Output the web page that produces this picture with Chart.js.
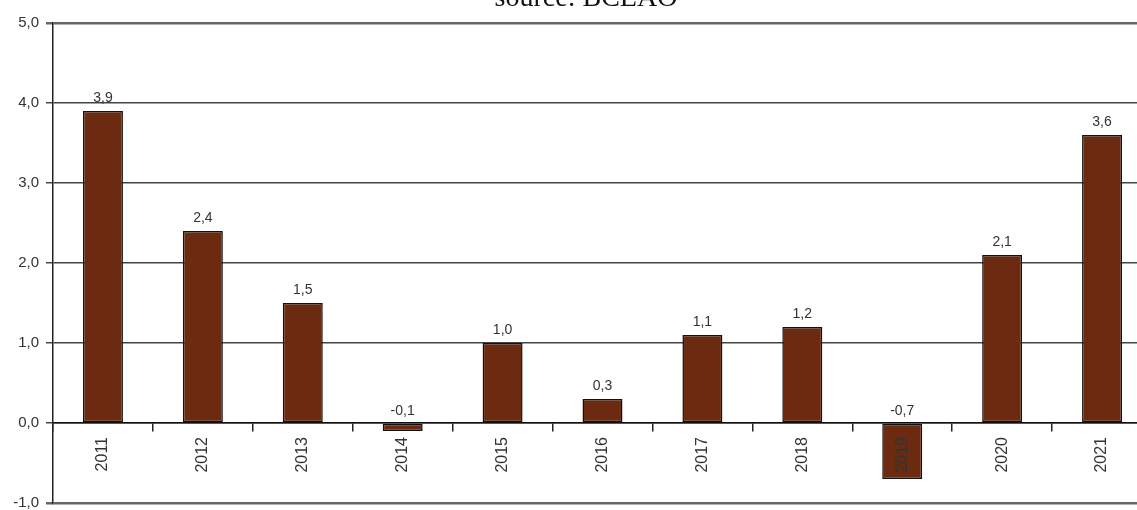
<!DOCTYPE html>
<html>
<head>
<meta charset="utf-8">
<script src="https://cdn.jsdelivr.net/npm/chart.js@4/dist/chart.umd.min.js"></script>
<style>
    html, body { margin: 0; padding: 0; background: #fff; overflow: hidden; }
    #wrap { position: relative; width: 1152px; height: 520px; }
    #source {
        position: absolute; left: 0; width: 1172px; top: -19px;
        text-align: center; font: 28px "Liberation Serif", "Times New Roman", serif; color: #111;
    }
</style>
</head>
<body>
<div id="wrap">
    <div id="source">source: BCEAO</div>
    <canvas id="chart01" width="1152" height="520"></canvas>
</div>
<script>
// annual rate, %
const years = ['2011', '2012', '2013', '2014', '2015', '2016', '2017', '2018', '2019', '2020', '2021'];
const rates = [3.9, 2.4, 1.5, -0.1, 1.0, 0.3, 1.1, 1.2, -0.7, 2.1, 3.6];
const yMin = -1;
const yMax = 5;

const fontFamily = '"Liberation Sans", Arial, sans-serif';
const toComma = (v) => Number(v).toFixed(1).replace('.', ',');

// value above each bar (above the zero line for the negative ones)
const barLabels = {
    id: 'barLabels',
    afterDatasetsDraw(chart) {
        const ctx = chart.ctx;
        const meta = chart.getDatasetMeta(0);
        ctx.save();
        ctx.font = `14px ${fontFamily}`;
        ctx.fillStyle = '#333';
        ctx.textAlign = 'center';
        ctx.textBaseline = 'bottom';
        meta.data.forEach((bar, i) => {
            const top = Math.min(bar.y, bar.base);
            ctx.fillText(toComma(rates[i]), bar.x, top - 6);
        });
        ctx.restore();
    }
};

const isEdge = (c) => c.tick && (c.tick.value === yMax || c.tick.value === yMin);

const chart = new Chart(document.getElementById('chart01'), {
    type: 'bar',
    data: {
        labels: years,
        datasets: [{
            data: rates,
            backgroundColor: '#6c2a10',
            borderColor: '#111',
            borderWidth: 1.5,
            borderSkipped: false,
            categoryPercentage: 1,
            barPercentage: 0.4
        }]
    },
    options: {
        responsive: false,
        animation: false,
        layout: { padding: { top: 23, bottom: 17, left: 0, right: 0 } },
        plugins: {
            legend: { display: false },
            tooltip: { enabled: false }
        },
        scales: {
            x: {
                position: { y: 0 },
                afterFit(scale) { scale.height = 0; },
                grid: {
                    offset: true,
                    drawOnChartArea: false,
                    drawTicks: true,
                    tickLength: 8,
                    lineWidth: 1.5,
                    color: '#222'
                },
                border: { color: '#111', width: 1.5 },
                ticks: {
                    z: 1, // year labels stay readable over the negative bars
                    autoSkip: false,
                    minRotation: 90,
                    maxRotation: 90,
                    padding: 6,
                    color: '#333',
                    font: { family: fontFamily, size: 16 }
                }
            },
            y: {
                min: yMin,
                max: yMax,
                afterFit(scale) { scale.width = 53; },
                grid: {
                    color: (c) => isEdge(c) ? '#666' : '#444',
                    lineWidth: (c) => isEdge(c) ? 2.5 : 1.5,
                    tickLength: 7
                },
                border: { color: '#222', width: 1.5 },
                ticks: {
                    stepSize: 1,
                    padding: 7,
                    color: '#333',
                    font: { family: fontFamily, size: 15 },
                    callback: (v) => toComma(v)
                }
            }
        }
    },
    plugins: [barLabels]
});
</script>
</body>
</html>
